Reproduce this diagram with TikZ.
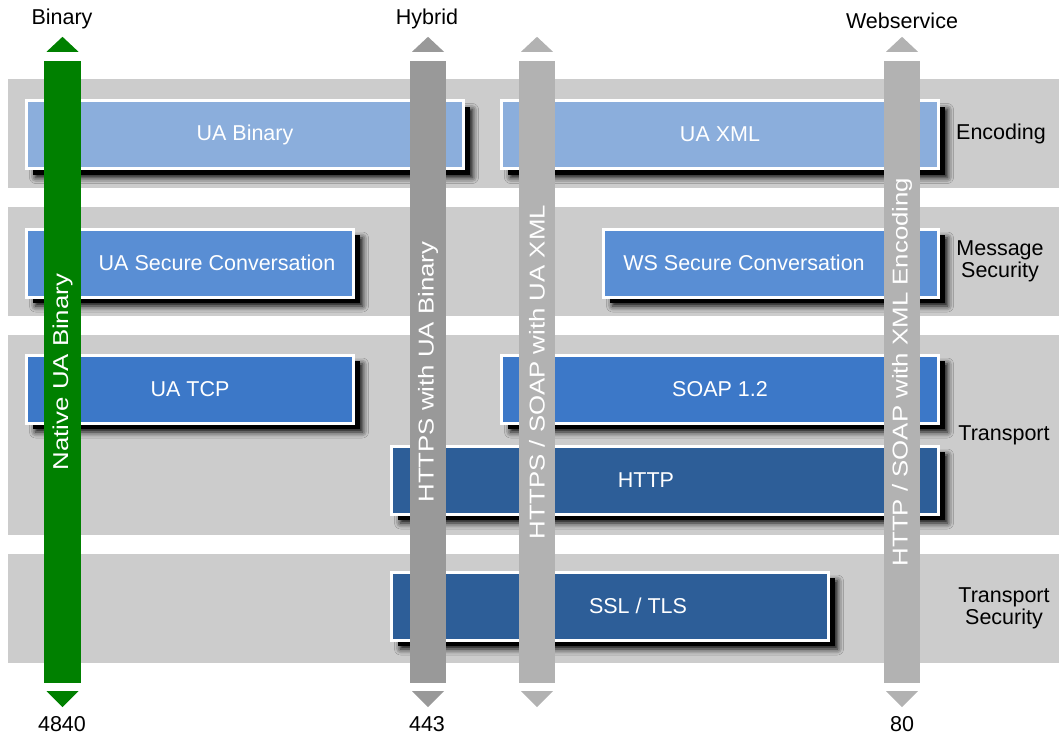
\documentclass[tikz,border=0pt]{standalone}
\usepackage{fontspec}
\setmainfont{Liberation Sans}
\usepackage{graphicx}
\usetikzlibrary{positioning,calc,shadows,shadows.blur}

\definecolor{layergray}{RGB}{204,204,204}
\definecolor{encblue}{RGB}{139,174,220}
\definecolor{msgblue}{RGB}{89,142,212}
\definecolor{tcpblue}{RGB}{60,120,200}
\definecolor{httpblue}{RGB}{45,94,152}
\definecolor{bingreen}{RGB}{0,128,0}
\definecolor{hybgray}{RGB}{153,153,153}
\definecolor{wsgray}{RGB}{178,178,178}

\begin{document}
\begin{tikzpicture}[x=1pt, y=-1pt,
    nodes = {align = center, font=\fontsize{21.5}{22}\selectfont},
    box/.style = {draw=white, line width=3pt, minimum height=68, inner sep=0pt, text=white,
      blur shadow={shadow xshift=9pt, shadow yshift=-9pt, shadow blur radius=6pt, shadow opacity=100},
      drop shadow={shadow xshift=6pt, shadow yshift=-6pt, fill=black, opacity=1}},
    boxtext/.style = {text=white, inner sep=0pt},
    bar/.style = {rotate=90, minimum width=622, minimum height=36, inner sep=0pt, text=white},
    port/.style = {text=black, inner sep=1pt}]
  \useasboundingbox (0,0) rectangle (1059,736);

  % layers
  \fill[layergray] (8,79) rectangle (1059,188);
  \fill[layergray] (8,207) rectangle (1059,316);
  \fill[layergray] (8,335) rectangle (1059,535);
  \fill[layergray] (8,554) rectangle (1059,663);
  \node[port] (enc) at (1001,134) {Encoding};
  \node[port] (msgsec) at (1000,261) {Message\\Security};
  \node[port] (trans) at (1004,435) {Transport};
  \node[port] (transsec) at (1004,608) {Transport\\Security};

  % protocol boxes
  \node[box, fill=encblue, minimum width=437] (uabin) at (245,134.5) {UA Binary};
  \node[box, fill=encblue, minimum width=437] (uaxml) at (720,134.5) {UA XML};
  \node[box, fill=msgblue, minimum width=327] (uasc) at (190,263) {};
  \node[boxtext] (uasc-t) at ([xshift=27]uasc.center) {UA Secure Conversation};
  \node[box, fill=msgblue, minimum width=335] (wssc) at (771,263) {};
  \node[boxtext] (wssc-t) at ([xshift=-27]wssc.center) {WS Secure Conversation};
  \node[box, fill=tcpblue, minimum width=327] (uatcp) at (190,389) {UA TCP};
  \node[box, fill=tcpblue, minimum width=437] (soap) at (720,389) {SOAP 1.2};
  \node[box, fill=httpblue, minimum width=547] (http) at (665,480) {};
  \node[boxtext] (http-t) at ([xshift=-19]http.center) {HTTP};
  \node[box, fill=httpblue, minimum width=437] (ssl) at (610,606) {};
  \node[boxtext] (ssl-t) at ([xshift=28]ssl.center) {SSL / TLS};

  % mappings
  \node[bar, fill=bingreen, minimum height=37] (native) at (62.5,372) {\scalebox{1.2}[1]{Native UA Binary}};
  \node[bar, fill=hybgray] (hybrid) at (428,372) {\scalebox{1.2}[1]{HTTPS with UA Binary}};
  \node[bar, fill=wsgray] (soapua) at (537,372) {\scalebox{1.2}[1]{HTTPS / SOAP with UA XML}};
  \node[bar, fill=wsgray] (soapxml) at (902,372) {\scalebox{1.2}[1]{HTTP / SOAP with XML Encoding}};
  \foreach \b/\c in {native/bingreen, hybrid/hybgray, soapua/wsgray, soapxml/wsgray} {
    \fill[\c] ($(\b.east)+(-16,-9)$) -- ($(\b.east)+(16,-9)$) -- ($(\b.east)+(0,-24)$) -- cycle;
    \fill[\c] ($(\b.west)+(-16,8)$) -- ($(\b.west)+(16,8)$) -- ($(\b.west)+(0,24)$) -- cycle;
  }

  \node[port] (binary) at (62,19) {Binary};
  \node[port] (hyb) at (427,19) {Hybrid};
  \node[port] (websvc) at (902,21) {Webservice};
  \node[port] (p4840) at (62,724) {4840};
  \node[port] (p443) at (427,724) {443};
  \node[port] (p80) at (902,724) {80};
\end{tikzpicture}
\end{document}
